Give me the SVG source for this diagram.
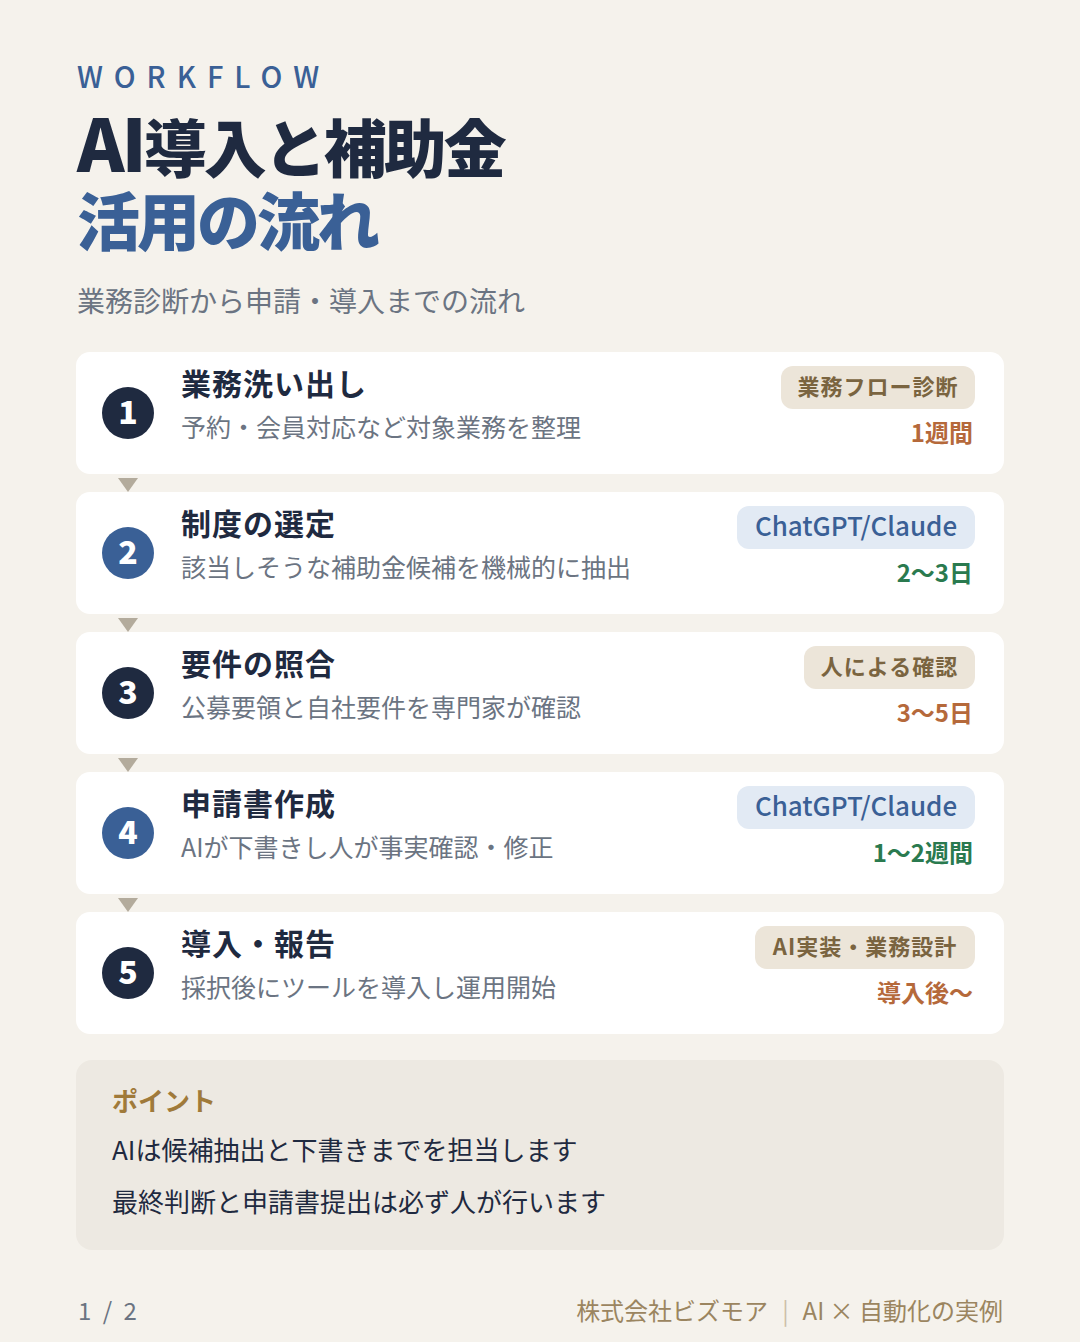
<svg xmlns="http://www.w3.org/2000/svg" width="1080" height="1342" viewBox="0 0 1080 1342">
<style>
text{font-family:"Noto Sans CJK JP","Noto Sans",sans-serif}
.card{fill:#ffffff}
.dark{fill:#1f2a40}
.blue{fill:#3a6096}
.num{fill:#ffffff;font-size:32px;font-weight:900;text-anchor:middle}
.ttl{fill:#1f2a40;font-size:30px;font-weight:700;letter-spacing:1px}
.desc{fill:#6b7482;font-size:25px}
.bbg{fill:#ece5d9}
.bbl{fill:#e2eaf4}
.tb{fill:#7a6440;font-size:22px;font-weight:700;text-anchor:middle;letter-spacing:1px}
.tl{fill:#3a6096;font-size:26px;font-weight:500;text-anchor:middle}
.dor{fill:#b5693b;font-size:24px;font-weight:700;text-anchor:end}
.dgr{fill:#2a7a4f;font-size:24px;font-weight:700;text-anchor:end}
.arr{fill:#b3ab9c}
</style>
<rect width="1080" height="1342" fill="#f5f2ec"/>
<g id="header">
<text x="77" y="88" fill="#3a6096" font-size="29" font-weight="500" letter-spacing="11">WORKFLOW</text>
<text x="77" y="172" fill="#1f2a40" font-size="63" font-weight="900" letter-spacing="-3"><tspan font-size="72" letter-spacing="-3">AI</tspan>導入と補助金</text>
<text x="77" y="245" fill="#3a6096" font-size="63" font-weight="900" letter-spacing="-3">活用の流れ</text>
<text x="77" y="312" fill="#6b7482" font-size="28">業務診断から申請・導入までの流れ</text>
</g>
<g id="connectors">
<polygon class="arr" points="118,478 138,478 128,492"/>
<polygon class="arr" points="118,618 138,618 128,632"/>
<polygon class="arr" points="118,758 138,758 128,772"/>
<polygon class="arr" points="118,898 138,898 128,912"/>
</g>
<g id="step1">
<rect class="card" x="76" y="352" width="928" height="122" rx="14"/>
<circle class="dark" cx="128" cy="413" r="26"/>
<text class="num" x="128" y="424">1</text>
<text class="ttl" x="181" y="395">業務洗い出し</text>
<text class="desc" x="181" y="437">予約・会員対応など対象業務を整理</text>
<rect class="bbg" x="781" y="366" width="194" height="43" rx="12"/>
<text class="tb" x="878" y="395">業務フロー診断</text>
<text class="dor" x="973" y="442">1週間</text>
</g>
<g id="step2">
<rect class="card" x="76" y="492" width="928" height="122" rx="14"/>
<circle class="blue" cx="128" cy="553" r="26"/>
<text class="num" x="128" y="564">2</text>
<text class="ttl" x="181" y="535">制度の選定</text>
<text class="desc" x="181" y="577">該当しそうな補助金候補を機械的に抽出</text>
<rect class="bbl" x="737" y="506" width="238" height="43" rx="12"/>
<text class="tl" x="856" y="536">ChatGPT/Claude</text>
<text class="dgr" x="973" y="582">2〜3日</text>
</g>
<g id="step3">
<rect class="card" x="76" y="632" width="928" height="122" rx="14"/>
<circle class="dark" cx="128" cy="693" r="26"/>
<text class="num" x="128" y="704">3</text>
<text class="ttl" x="181" y="675">要件の照合</text>
<text class="desc" x="181" y="717">公募要領と自社要件を専門家が確認</text>
<rect class="bbg" x="804" y="646" width="171" height="43" rx="12"/>
<text class="tb" x="889.5" y="675">人による確認</text>
<text class="dor" x="973" y="722">3〜5日</text>
</g>
<g id="step4">
<rect class="card" x="76" y="772" width="928" height="122" rx="14"/>
<circle class="blue" cx="128" cy="833" r="26"/>
<text class="num" x="128" y="844">4</text>
<text class="ttl" x="181" y="815">申請書作成</text>
<text class="desc" x="181" y="857">AIが下書きし人が事実確認・修正</text>
<rect class="bbl" x="737" y="786" width="238" height="43" rx="12"/>
<text class="tl" x="856" y="816">ChatGPT/Claude</text>
<text class="dgr" x="973" y="862">1〜2週間</text>
</g>
<g id="step5">
<rect class="card" x="76" y="912" width="928" height="122" rx="14"/>
<circle class="dark" cx="128" cy="973" r="26"/>
<text class="num" x="128" y="984">5</text>
<text class="ttl" x="181" y="955">導入・報告</text>
<text class="desc" x="181" y="997">採択後にツールを導入し運用開始</text>
<rect class="bbg" x="755" y="926" width="220" height="43" rx="12"/>
<text class="tb" x="865" y="955">AI実装・業務設計</text>
<text class="dor" x="973" y="1002">導入後〜</text>
</g>
<g id="point">
<rect x="76" y="1060" width="928" height="190" rx="16" fill="#ede9e2"/>
<text x="112" y="1111" fill="#a07a3a" font-size="26" font-weight="700">ポイント</text>
<text x="112" y="1160" fill="#1f2a40" font-size="26">AIは候補抽出と下書きまでを担当します</text>
<text x="112" y="1212" fill="#1f2a40" font-size="26">最終判断と申請書提出は必ず人が行います</text>
</g>
<g id="footer">
<text x="78" y="1320" fill="#6b7482" font-size="24" letter-spacing="3">1 / 2</text>
<text x="1003" y="1320" fill="#9b8560" font-size="24" text-anchor="end">株式会社ビズモア<tspan fill="#cdbfa8" dx="14">|</tspan><tspan dx="14">AI × 自動化の実例</tspan></text>
</g>
</svg>
